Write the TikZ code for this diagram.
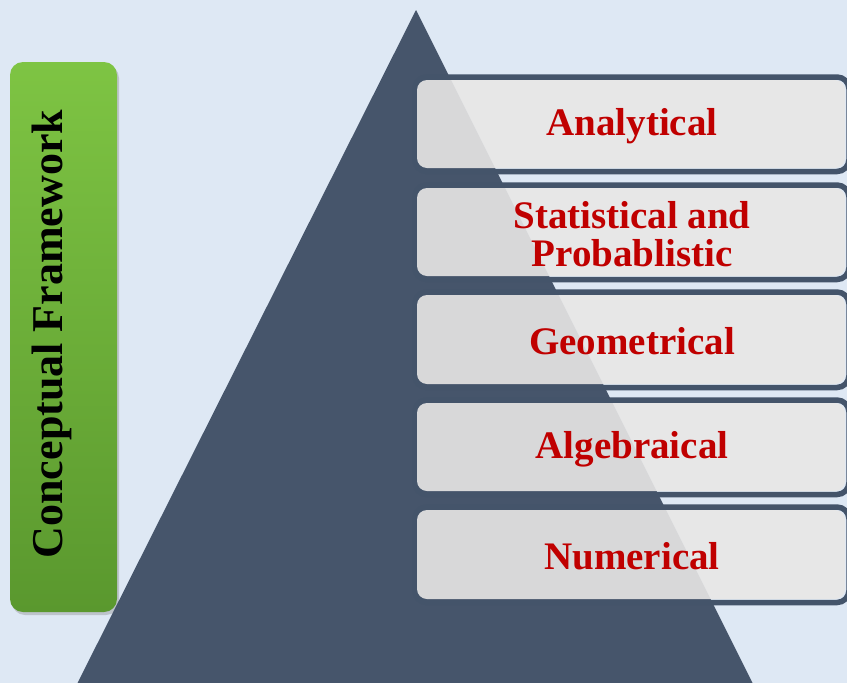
\documentclass[tikz,border=0pt]{standalone}
\usepackage{fontspec}
\setmainfont{Liberation Serif}
\usetikzlibrary{shadows}
\definecolor{bgblue}{HTML}{DEE8F4}
\definecolor{slate}{HTML}{46556B}
\definecolor{ringc}{HTML}{44546A}
\definecolor{boxfill}{HTML}{E8E7E6}
\definecolor{greentop}{HTML}{7EC443}
\definecolor{greenbot}{HTML}{5A982E}
\definecolor{textred}{HTML}{C00000}
\tikzset{
  ring/.style={draw=ringc, line width=5.5pt, rounded corners=12pt},
  lightbox/.style={fill=boxfill, fill opacity=0.9, rounded corners=10pt},
  label/.style={text=textred, font=\fontsize{39}{38}\selectfont\bfseries, align=center},
}
\begin{document}
\begin{tikzpicture}[x=1pt,y=-1pt]
\useasboundingbox (0,0) rectangle (847,683);
\fill[bgblue] (0,0) rectangle (847,683);
% green side bar
\shade[top color=greentop, bottom color=greenbot, rounded corners=13pt,
  drop shadow={shadow xshift=2pt, shadow yshift=-3pt, opacity=0.35}]
  (10,62) rectangle (117,612);
\node[rotate=90, font=\fontsize{44}{44}\selectfont\bfseries] (cf) at (52,334) {Conceptual Framework};
% pyramid
\fill[slate] (416,10) coordinate (apex) -- (77,684) -- (753,684) -- cycle;
% boxes
\foreach \t/\b/\n/\txt in {80/168/b1/{Analytical},
                           188/276/b2/{Statistical and\\Probablistic},
                           295/384/b3/{Geometrical},
                           403/491/b4/{Algebraical},
                           510/599/b5/{Numerical}}{
  \draw[ring] (415,\t-3) rectangle (849,\b+3.5);
  \fill[lightbox] (417,\t) rectangle (845,\b);
  \node[label] (\n) at (632,{(\t+\b)/2+2}) {\txt};
}
\end{tikzpicture}
\end{document}
